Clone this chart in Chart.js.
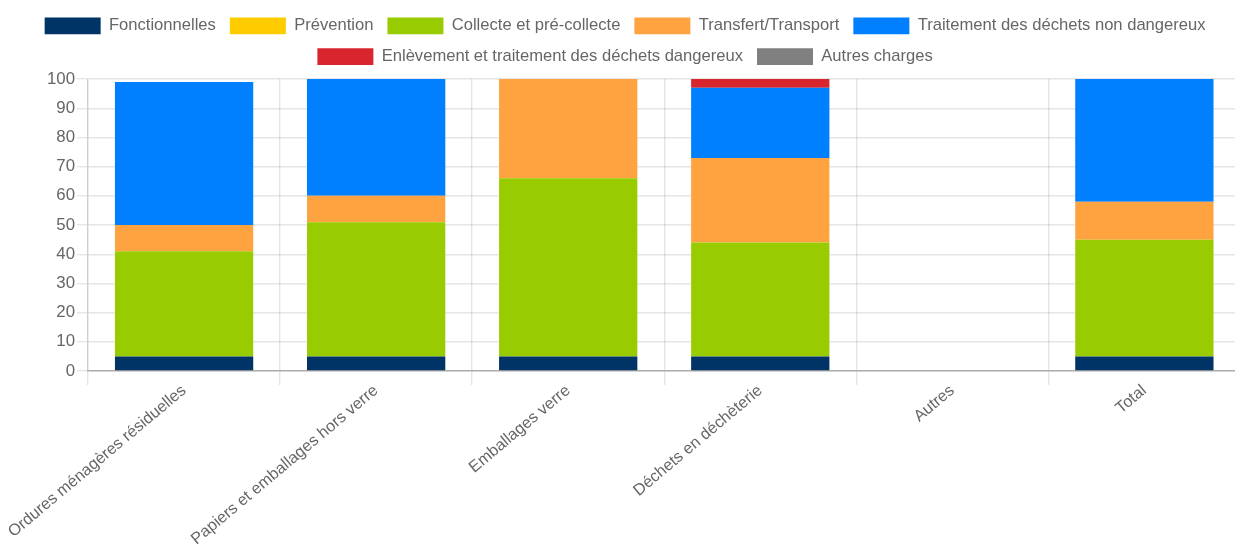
<!DOCTYPE html>
<html>
<head>
<meta charset="utf-8">
<script src="https://cdn.jsdelivr.net/npm/chart.js@4/dist/chart.umd.min.js"></script>
<style>
html,body{margin:0;padding:0;background:#fff;overflow:hidden;width:1235px;height:545px;}
#wrap{width:893px;height:389.3px;position:absolute;left:0;top:0;transform:scale(1.4);transform-origin:0 0;}
</style>
</head>
<body>
<div id="wrap"><canvas id="c"></canvas></div>
<script>
const categories = ["Ordures ménagères résiduelles","Papiers et emballages hors verre","Emballages verre","Déchets en déchèterie","Autres","Total"];
const fonctionnelles = [5, 5, 5, 5, 0, 5];
const prevention = [0, 0, 0, 0, 0, 0];
const collecte = [36, 46, 61, 39, 0, 40];
const transfert = [9, 9, 34, 29, 0, 13];
const traitementND = [49, 40, 0, 24, 0, 42];
const dangereux = [0, 0, 0, 3, 0, 0];
const autresCharges = [0, 0, 0, 0, 0, 0];
const yTicks = [0,10,20,30,40,50,60,70,80,90,100];

const series = [
  ["Fonctionnelles", fonctionnelles, "#003366"],
  ["Prévention", prevention, "#ffcc00"],
  ["Collecte et pré-collecte", collecte, "#99cc00"],
  ["Transfert/Transport", transfert, "#ffa340"],
  ["Traitement des déchets non dangereux", traitementND, "#007fff"],
  ["Enlèvement et traitement des déchets dangereux", dangereux, "#d9262e"],
  ["Autres charges", autresCharges, "#808080"]
];

Chart.defaults.font.family = "'Liberation Sans', Arial, Helvetica, sans-serif";
Chart.defaults.font.size = 12;
Chart.defaults.color = "#666";

new Chart(document.getElementById('c'), {
  type: 'bar',
  data: {
    labels: categories,
    datasets: series.map(s => ({label: s[0], data: s[1], backgroundColor: s[2], borderWidth: 0}))
  },
  options: {
    responsive: true,
    maintainAspectRatio: false,
    animation: false,
    devicePixelRatio: 1.4,
    layout: {padding: {top: 2.5, right: 0, left: 0, bottom: 0}},
    plugins: {
      legend: {
        position: 'top',
        labels: {boxWidth: 40, boxHeight: 12, padding: 10, color: '#666', font: {size: 11.85}}
      },
      tooltip: {enabled: false}
    },
    scales: {
      x: {
        stacked: true,
        ticks: {minRotation: 40, maxRotation: 40, padding: -2.8, font: {size: 11.6}},
        grid: {color: 'rgba(0,0,0,0.1)', tickLength: 10},
        border: {color: 'rgba(0,0,0,0.25)'},
        afterFit: (scale) => { scale.height = 124.3; }
      },
      y: {
        stacked: true,
        min: 0, max: 100,
        afterBuildTicks: (axis) => { axis.ticks = yTicks.map(v => ({value: v})); },
        ticks: {padding: 1.3},
        grid: {color: 'rgba(0,0,0,0.1)'},
        border: {color: 'rgba(0,0,0,0.1)'},
        afterFit: (scale) => { scale.width = 62.9; }
      },
      yRightSpace: {
        type: 'linear',
        position: 'right',
        display: true,
        min: 0, max: 100,
        grid: {display: false, drawTicks: false},
        ticks: {display: false},
        border: {display: false},
        afterFit: (scale) => { scale.width = 7; }
      }
    }
  }
});
</script>
</body>
</html>
